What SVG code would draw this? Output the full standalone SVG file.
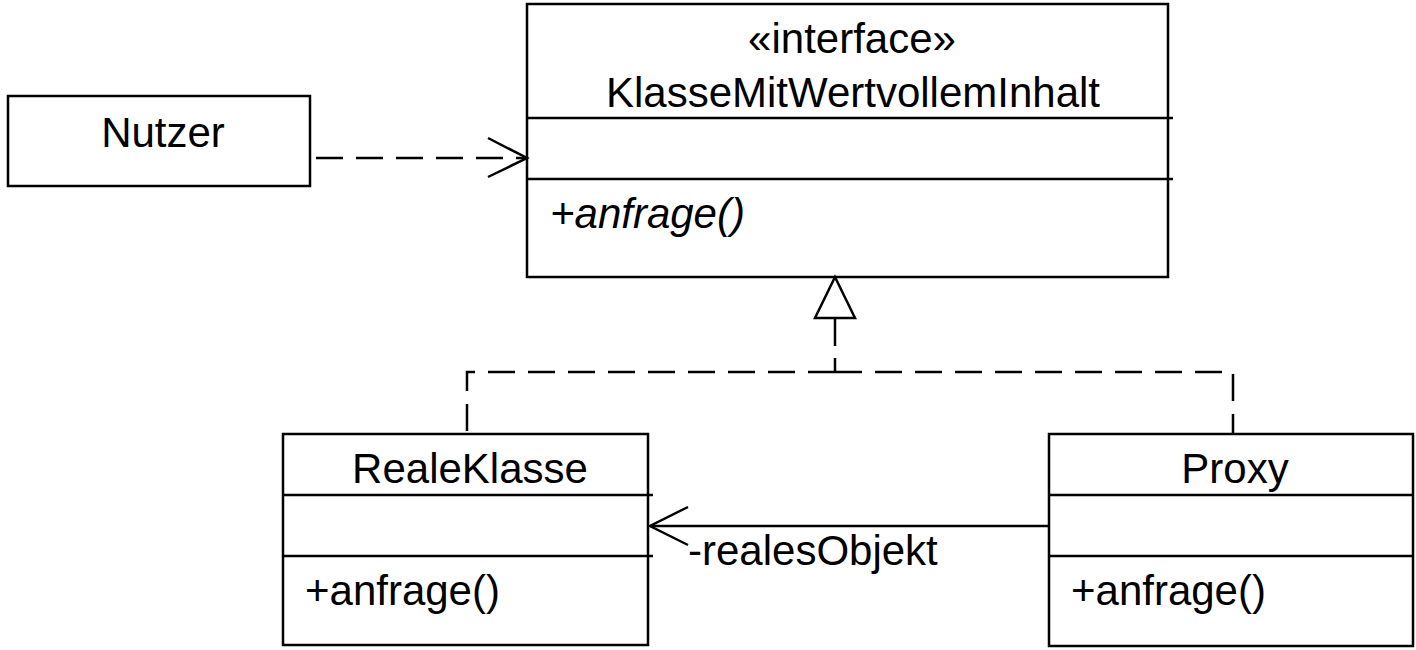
<svg xmlns="http://www.w3.org/2000/svg" width="1416" height="650" viewBox="0 0 1416 650">
<style>
.box{fill:#fff;stroke:#000;stroke-width:2.5}
.div{stroke:#000;stroke-width:2.5}
.t{font-family:"Liberation Sans",Arial,sans-serif;font-size:42px;fill:#000}
.c{text-anchor:middle}
.i{font-style:italic}
.dash{fill:none;stroke:#000;stroke-width:2.5;stroke-dasharray:27 13}
.solid{fill:none;stroke:#000;stroke-width:2.5}
</style>
<rect width="1416" height="650" fill="#fff"/>
<g id="node-nutzer">
<rect class="box" x="8" y="96" width="302" height="90"/>
<text class="t c" x="163" y="147">Nutzer</text>
</g>
<g id="node-interface">
<rect class="box" x="527" y="4" width="641" height="273"/>
<line class="div" x1="527" y1="118" x2="1173" y2="118"/>
<line class="div" x1="527" y1="179" x2="1173" y2="179"/>
<text class="t c" x="852" y="53">«interface»</text>
<text class="t c" x="853" y="107">KlasseMitWertvollemInhalt</text>
<text class="t i" x="550" y="228">+anfrage()</text>
</g>
<g id="node-realeklasse">
<rect class="box" x="283" y="434" width="365" height="211"/>
<line class="div" x1="283" y1="495" x2="653" y2="495"/>
<line class="div" x1="283" y1="556" x2="653" y2="556"/>
<text class="t c" x="470" y="483">RealeKlasse</text>
<text class="t" x="305" y="605">+anfrage()</text>
</g>
<g id="node-proxy">
<rect class="box" x="1049" y="434" width="364" height="212"/>
<line class="div" x1="1049" y1="495" x2="1413" y2="495"/>
<line class="div" x1="1049" y1="556" x2="1413" y2="556"/>
<text class="t c" x="1235" y="483">Proxy</text>
<text class="t" x="1071" y="605">+anfrage()</text>
</g>
<g id="connectors">
<path class="dash" d="M316,158 H526"/>
<path class="solid" d="M488,138 L527,158 L488,177"/>
<path class="dash" style="stroke-dasharray:28 12" d="M835,318 V372"/>
<path class="dash" d="M835,372 H467 V434"/>
<path class="dash" d="M835,372 H1233 V434"/>
<path class="box" d="M835,277 L815,318 L855,318 Z"/>
<path class="solid" d="M1049,526 H650"/>
<path class="solid" d="M688,507 L650,526 L688,545"/>
<text class="t" x="688" y="565">-realesObjekt</text>
</g>
</svg>
